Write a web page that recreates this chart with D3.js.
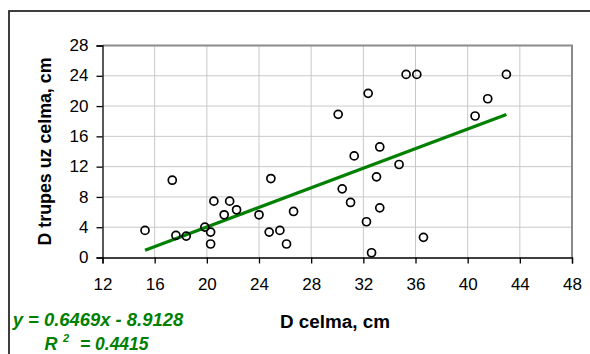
<!DOCTYPE html>
<html>
<head>
<meta charset="utf-8">
<script src="https://cdn.jsdelivr.net/npm/d3@7"></script>
<style>
  html, body { margin: 0; padding: 0; background: #fff; }
  svg { display: block; }
  text { font-family: "Liberation Sans", Arial, sans-serif; }
</style>
</head>
<body>
<svg id="chart" width="590" height="354"></svg>
<script>
// Stem diameter (cm) for each tree
const stemDiameter = [
  15.26, 17.35, 17.63, 18.42, 19.85, 20.29, 20.29, 20.54, 21.33, 21.75,
  22.28, 24.0, 24.91, 24.78, 25.6, 26.11, 26.65, 30.07, 30.38, 32.37,
  35.28, 36.1, 42.97, 41.54, 40.57, 33.26, 31.3, 34.74, 33.01, 31.02,
  33.26, 32.24, 36.61, 32.63
];
// Rot diameter at the stem (cm), same order
const rotDiameter = [
  3.58, 10.21, 2.92, 2.83, 4.02, 3.36, 1.78, 7.44, 5.64, 7.44,
  6.3, 5.64, 10.43, 3.36, 3.58, 1.78, 6.08, 18.91, 9.07, 21.68,
  24.18, 24.18, 24.18, 20.97, 18.69, 14.6, 13.42, 12.28, 10.65, 7.27,
  6.56, 4.72, 2.66, 0.63
];
// Linear trend: y = slope * x + intercept
const trendSlope = 0.6469;
const trendIntercept = -8.9128;
const rSquared = 0.4415;

const xTicks = [12, 16, 20, 24, 28, 32, 36, 40, 44, 48];
const yTicks = [0, 4, 8, 12, 16, 20, 24, 28];

const points = stemDiameter.map((d, i) => ({ x: d, y: rotDiameter[i] }));

const svg = d3.select("#chart");
const plot = { left: 102.5, right: 572, top: 45.5, bottom: 257.5 };

const x = d3.scaleLinear().domain([12, 48]).range([plot.left, plot.right]);
const y = d3.scaleLinear().domain([0, 28]).range([plot.bottom, plot.top]);

// outer chart frame (runs off the right and bottom edges)
svg.append("rect")
  .attr("x", 9).attr("y", 11)
  .attr("width", 620).attr("height", 400)
  .attr("fill", "none").attr("stroke", "#2a2a2a").attr("stroke-width", 1.8);

// gridlines
const grid = svg.append("g").attr("stroke", "#c8c8c8").attr("stroke-width", 1);
grid.selectAll("line.v").data(xTicks.slice(1, -1)).join("line")
  .attr("x1", d => x(d)).attr("x2", d => x(d))
  .attr("y1", plot.top).attr("y2", plot.bottom);
grid.selectAll("line.h").data(yTicks.slice(1, -1)).join("line")
  .attr("x1", plot.left).attr("x2", plot.right)
  .attr("y1", d => y(d)).attr("y2", d => y(d));

// plot area border (top and right)
svg.append("path")
  .attr("d", `M${plot.left},${plot.top}H${plot.right}V${plot.bottom}`)
  .attr("fill", "none").attr("stroke", "#8a8a8a").attr("stroke-width", 2);

// axes
const xAxis = d3.axisBottom(x).tickValues(xTicks).tickSize(6).tickPadding(10);
const yAxis = d3.axisLeft(y).tickValues(yTicks).tickSize(6).tickPadding(9);

const gx = svg.append("g").attr("transform", `translate(0,${plot.bottom})`).call(xAxis);
const gy = svg.append("g").attr("transform", `translate(${plot.left},0)`).call(yAxis);

[gx, gy].forEach(g => {
  g.select(".domain").attr("stroke", "#000").attr("stroke-width", 1.3);
  g.selectAll(".tick line").attr("stroke", "#000").attr("stroke-width", 1.3);
  g.selectAll(".tick text")
    .attr("fill", "#000")
    .style("font-family", "'Liberation Sans', Arial, sans-serif")
    .style("font-size", "17px");
});
gx.selectAll(".tick text").attr("dy", "0.71em").attr("y", 20.5);
gy.selectAll(".tick text").attr("x", -14).attr("dy", "0.3em");

// trendline across the data range
const xExtent = d3.extent(stemDiameter);
svg.append("line")
  .attr("x1", x(xExtent[0])).attr("y1", y(trendSlope * xExtent[0] + trendIntercept))
  .attr("x2", x(xExtent[1])).attr("y2", y(trendSlope * xExtent[1] + trendIntercept))
  .attr("stroke", "#008000").attr("stroke-width", 3.2).attr("stroke-linecap", "butt");

// observations
svg.append("g").selectAll("circle").data(points).join("circle")
  .attr("cx", d => x(d.x)).attr("cy", d => y(d.y))
  .attr("r", 4)
  .attr("fill", "none").attr("stroke", "#000").attr("stroke-width", 1.7);

// axis titles
svg.append("text")
  .attr("x", 335).attr("y", 328.3)
  .attr("text-anchor", "middle")
  .attr("font-weight", "bold").attr("font-size", 18)
  .attr("textLength", 110).attr("lengthAdjust", "spacingAndGlyphs")
  .text("D celma, cm");

svg.append("text")
  .attr("transform", `translate(50.5,${(plot.top + plot.bottom) / 2}) rotate(-90)`)
  .attr("text-anchor", "middle")
  .attr("font-weight", "bold").attr("font-size", 18)
  .attr("textLength", 188).attr("lengthAdjust", "spacingAndGlyphs")
  .text("D trupes uz celma, cm");

// trend equation and coefficient of determination
const eq = svg.append("g").attr("fill", "#008000")
  .attr("font-weight", "bold").attr("font-style", "italic").attr("font-size", 18);
eq.append("text")
  .attr("x", 12.7).attr("y", 326.3)
  .attr("textLength", 170.5).attr("lengthAdjust", "spacingAndGlyphs")
  .text(`y = ${trendSlope}x - ${Math.abs(trendIntercept)}`);
eq.append("text").attr("x", 44.5).attr("y", 349.5).text("R");
eq.append("text").attr("x", 63).attr("y", 342).attr("font-size", 11).text("2");
eq.append("text")
  .attr("x", 80).attr("y", 349.5)
  .attr("textLength", 68.5).attr("lengthAdjust", "spacingAndGlyphs")
  .text(`= ${rSquared}`);
</script>
</body>
</html>
